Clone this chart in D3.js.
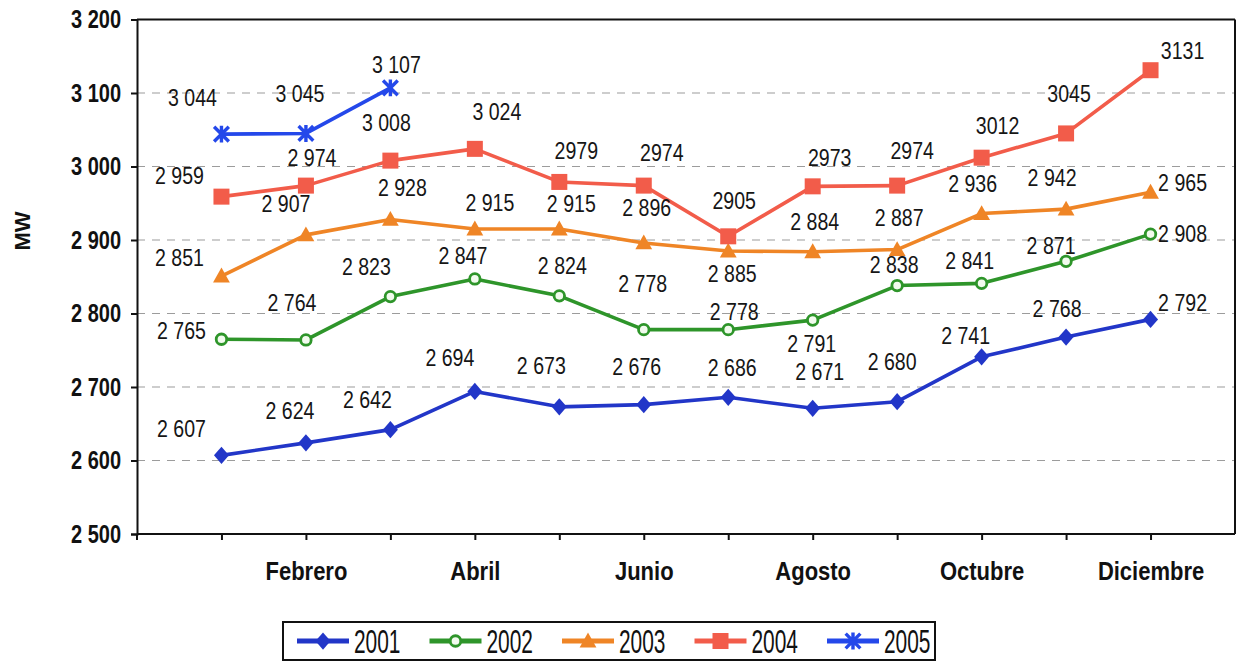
<!DOCTYPE html>
<html>
<head>
<meta charset="utf-8">
<script src="https://cdn.jsdelivr.net/npm/d3@7"></script>
<style>
  body { margin: 0; background: #ffffff; }
  svg { display: block; }
</style>
</head>
<body>
<svg id="chart" width="1236" height="662"></svg>
<script>
// Monthly maximum demand (MW), 2001-2005
const months = ["Enero", "Febrero", "Marzo", "Abril", "Mayo", "Junio", "Julio",
                "Agosto", "Septiembre", "Octubre", "Noviembre", "Diciembre"];
const labelledMonths = ["Febrero", "Abril", "Junio", "Agosto", "Octubre", "Diciembre"];
const yTicks = [2500, 2600, 2700, 2800, 2900, 3000, 3100, 3200];
const gridValues = [2600, 2700, 2800, 2900, 3000, 3100];
const years = ["2001", "2002", "2003", "2004", "2005"];

const mw2001 = [2607, 2624, 2642, 2694, 2673, 2676, 2686, 2671, 2680, 2741, 2768, 2792];
const mw2002 = [2765, 2764, 2823, 2847, 2824, 2778, 2778, 2791, 2838, 2841, 2871, 2908];
const mw2003 = [2851, 2907, 2928, 2915, 2915, 2896, 2885, 2884, 2887, 2936, 2942, 2965];
const mw2004 = [2959, 2974, 3008, 3024, 2979, 2974, 2905, 2973, 2974, 3012, 3045, 3131];
const mw2005 = [3044, 3045, 3107];

// Value-label placement relative to each marker (dx, dy in px)
const labelShift2001 = [[-40,-27],[-16,-33],[-23,-30],[-25,-34],[-18,-42],[-7,-38],[4,-30],[7,-37],[-5,-40],[-16,-22],[-9,-29],[32,-17]];
const labelShift2002 = [[-40,-9],[-14,-38],[-24,-30],[-12,-24],[3,-31],[-1,-46],[6,-18],[-1,23],[-3,-21],[-12,-23],[-15,-16],[32,-1]];
const labelShift2003 = [[-42,-19],[-20,-32],[12,-32],[15,-27],[12,-26],[3,-36],[4,22],[2,-30],[2,-32],[-9,-30],[-14,-32],[32,-10]];
const labelShift2004 = [[-42,-21],[6,-28],[-4,-38],[22,-38],[17,-32],[18,-33],[6,-36],[17,-29],[15,-35],[16,-32],[3,-40],[32,-20]];
const labelShift2005 = [[-29,-37],[-6,-40],[6,-24]];
// 2004 labels from May on are written without the thousands gap
const ungroupedFrom2004 = 4;

const svg = d3.select("#chart");
const W = 1236, H = 662;
svg.append("rect").attr("width", W).attr("height", H).attr("fill", "#ffffff");

const plotLeft = 137, plotRight = 1235, plotTop = 19.5, plotBottom = 534;

const x = d3.scalePoint().domain(months).range([plotLeft, plotRight]).padding(1);
const y = d3.scaleLinear().domain([2500, 3200]).range([plotBottom, plotTop]);

const locale = d3.formatLocale({ decimal: ",", thousands: " ", grouping: [3], currency: ["", ""] });
const fmtGrouped = locale.format(",d");
const fmtPlain = d3.format("d");

const font = "'Liberation Sans', Arial, sans-serif";
// condensed look: glyphs are squeezed horizontally
const yTickSqueeze = 0.8, xTickSqueeze = 0.88, labelSqueeze = 0.85;

// Gridlines
svg.append("g")
  .selectAll("line")
  .data(gridValues)
  .join("line")
  .attr("x1", plotLeft).attr("x2", plotRight)
  .attr("y1", d => y(d)).attr("y2", d => y(d))
  .attr("stroke", "#9c9c9c")
  .attr("stroke-width", 1.2)
  .attr("stroke-dasharray", "8,7");

// Frame (top and right)
svg.append("line").attr("x1", plotLeft).attr("x2", plotRight).attr("y1", plotTop).attr("y2", plotTop)
  .attr("stroke", "#111").attr("stroke-width", 2);
svg.append("line").attr("x1", plotRight).attr("x2", plotRight).attr("y1", plotTop).attr("y2", plotBottom)
  .attr("stroke", "#111").attr("stroke-width", 2);

// Y axis
const yAxis = svg.append("g")
  .attr("transform", `translate(${plotLeft},0)`)
  .call(d3.axisLeft(y).tickValues(yTicks).tickSize(6).tickPadding(10).tickFormat(fmtGrouped));
yAxis.select(".domain").attr("stroke", "#111").attr("stroke-width", 2);
yAxis.selectAll(".tick line").attr("stroke", "#111").attr("stroke-width", 2);
yAxis.selectAll(".tick text")
  .attr("x", -16 / yTickSqueeze)
  .attr("transform", `scale(${yTickSqueeze},1)`)
  .attr("font-family", font).attr("font-weight", "bold").attr("font-size", 25)
  .attr("fill", "#111");

// X axis
const xAxis = svg.append("g")
  .attr("transform", `translate(0,${plotBottom})`)
  .call(d3.axisBottom(x).tickSize(6).tickPadding(22)
    .tickFormat(d => labelledMonths.includes(d) ? d : ""));
xAxis.select(".domain").attr("stroke", "#111").attr("stroke-width", 2).attr("d", `M${plotLeft},0H${plotRight}`);
xAxis.selectAll(".tick line").attr("stroke", "#111").attr("stroke-width", 2);
xAxis.selectAll(".tick text")
  .attr("transform", `scale(${xTickSqueeze},1)`)
  .attr("font-family", font).attr("font-weight", "bold").attr("font-size", 25)
  .attr("fill", "#111");
// Left axis extends slightly under the baseline
svg.append("line").attr("x1", plotLeft).attr("x2", plotLeft).attr("y1", plotBottom).attr("y2", plotBottom + 6)
  .attr("stroke", "#111").attr("stroke-width", 2);

// Y axis title
svg.append("text")
  .attr("transform", `translate(30,231) rotate(-90)`)
  .attr("text-anchor", "middle")
  .attr("font-family", font)
  .attr("font-weight", "bold").attr("font-size", 22)
  .attr("fill", "#111")
  .text("MW");

// Marker shapes
function drawMarker(g, kind, color, s) {
  if (kind === "diamond") {
    g.append("path").attr("d", `M0,${-s * 1.15}L${s},0L0,${s * 1.15}L${-s},0Z`).attr("fill", color);
  } else if (kind === "circle") {
    g.append("circle").attr("r", s * 0.75).attr("fill", "#f2fbee").attr("stroke", color).attr("stroke-width", 2.8);
  } else if (kind === "triangle") {
    g.append("path").attr("d", `M0,${-s * 1.05}L${s * 1.05},${s * 0.8}L${-s * 1.05},${s * 0.8}Z`).attr("fill", color);
  } else if (kind === "square") {
    g.append("rect").attr("x", -s).attr("y", -s).attr("width", 2 * s).attr("height", 2 * s).attr("fill", color);
  } else if (kind === "asterisk") {
    const r = s * 1.05;
    const p = `M${-r},${-r}L${r},${r}M${-r},${r}L${r},${-r}M0,${-r * 1.15}L0,${r * 1.15}`;
    g.append("path").attr("d", p).attr("stroke", color).attr("stroke-width", 3.4).attr("fill", "none");
  }
}

const series = [
  { name: years[0], values: mw2001, color: "#2236c8", marker: "diamond",  size: 7.5, shift: labelShift2001 },
  { name: years[1], values: mw2002, color: "#2e952a", marker: "circle",   size: 7,   shift: labelShift2002 },
  { name: years[2], values: mw2003, color: "#ef8526", marker: "triangle", size: 8,   shift: labelShift2003 },
  { name: years[3], values: mw2004, color: "#f25c4a", marker: "square",   size: 8,   shift: labelShift2004 },
  { name: years[4], values: mw2005, color: "#2448ea", marker: "asterisk", size: 7,   shift: labelShift2005 }
];

const line = d3.line().x(d => x(d.m)).y(d => y(d.v));

series.forEach(s => {
  const pts = s.values.map((v, i) => ({ m: months[i], v, i }));
  svg.append("path")
    .datum(pts)
    .attr("d", line)
    .attr("fill", "none")
    .attr("stroke", s.color)
    .attr("stroke-width", 3.6)
    .attr("stroke-linejoin", "round");

  pts.forEach(p => {
    const g = svg.append("g").attr("transform", `translate(${x(p.m)},${y(p.v)})`);
    drawMarker(g, s.marker, s.color, s.size);
  });
});

// Value labels
series.forEach(s => {
  s.values.forEach((v, i) => {
    const [dx, dy] = s.shift[i];
    const txt = (s.name === "2004" && i >= ungroupedFrom2004) ? fmtPlain(v) : fmtGrouped(v);
    svg.append("g")
      .attr("transform", `translate(${x(months[i]) + dx},${y(v) + dy})`)
      .append("text")
      .attr("transform", `scale(${labelSqueeze},1.05)`)
      .attr("dy", "0.36em")
      .attr("text-anchor", "middle")
      .attr("font-family", font)
      .attr("font-size", 23)
      .attr("fill", "#161616")
      .text(txt);
  });
});

// Legend
const legend = svg.append("g");
legend.append("rect")
  .attr("x", 283).attr("y", 622).attr("width", 652).attr("height", 38)
  .attr("fill", "#ffffff").attr("stroke", "#111").attr("stroke-width", 2);

const legendStart = 297, legendStep = 132.5, sampleLen = 52, legendY = 641;
series.forEach((s, k) => {
  const x0 = legendStart + k * legendStep;
  const g = legend.append("g");
  g.append("line")
    .attr("x1", x0).attr("x2", x0 + sampleLen)
    .attr("y1", legendY).attr("y2", legendY)
    .attr("stroke", s.color).attr("stroke-width", 5);
  const mg = g.append("g").attr("transform", `translate(${x0 + sampleLen / 2},${legendY})`);
  drawMarker(mg, s.marker, s.color, s.size);
  g.append("text")
    .attr("transform", `translate(${x0 + sampleLen + 5},${legendY}) scale(0.95,1.5)`)
    .attr("dy", "0.36em")
    .attr("font-family", font)
    .attr("font-size", 22)
    .attr("fill", "#111")
    .text(s.name);
});
</script>
</body>
</html>
